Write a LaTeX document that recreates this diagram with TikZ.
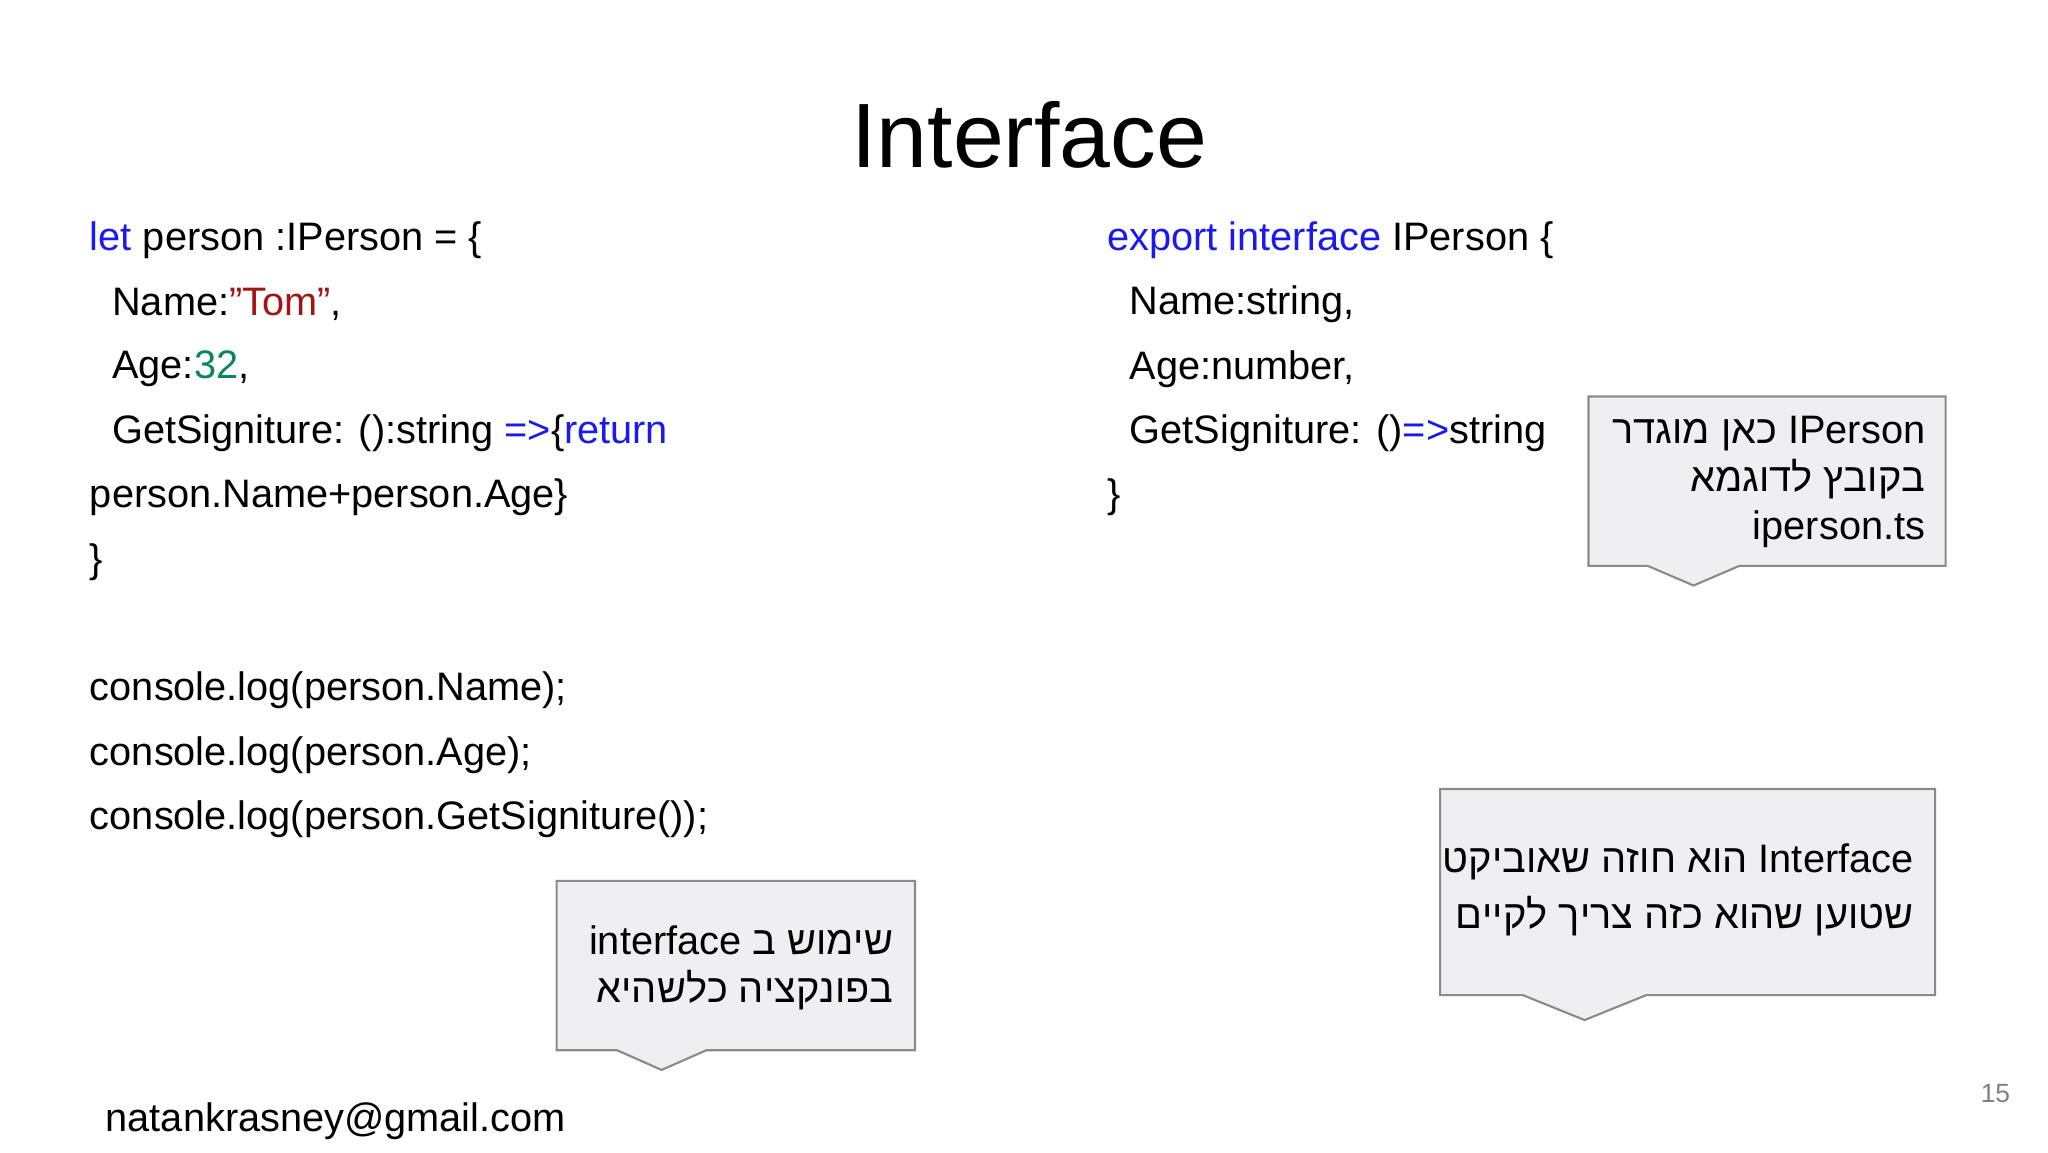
\documentclass[tikz,border=0pt]{standalone}
\usepackage{fontspec}
\setmainfont{Liberation Sans}
\TeXXeTstate=1
\definecolor{kwblue}{HTML}{1A1AF0}
\definecolor{strred}{HTML}{A31515}
\definecolor{numgreen}{HTML}{098658}
\definecolor{boxfill}{HTML}{EFEFF1}
\definecolor{boxline}{HTML}{8A8A8A}
\tikzstyle{code} = [anchor=west, inner sep=0pt, font=\fontsize{11.3}{13}\selectfont]
\tikzstyle{callout} = [fill=boxfill, draw=boxline, line width=0.6pt]
\tikzstyle{note} = [anchor=east, inner sep=0pt, align=right, font=\fontsize{11.3}{13.6}\selectfont]
\newcommand{\kw}[1]{\textcolor{kwblue}{#1}}

\begin{document}
\begin{tikzpicture}[x=0.01313cm, y=-0.01313cm]
	\useasboundingbox (0,0) rectangle (1560,878);

	\node (title) [inner sep=0pt, font=\fontsize{26}{30}\selectfont] at (784,103) {Interface};

	% left column
	\node (l1) [code] at (68,183) {\kw{let} person :IPerson = \{};
	\node (l2) [code] at (85,232) {Name:\textcolor{strred}{"Tom"},};
	\node (l3) [code] at (85,281) {Age:\textcolor{numgreen}{32},};
	\node (l4) [code] at (85,330) {GetSigniture: ():string \kw{=>}\{\kw{return}};
	\node (l5) [code] at (68,379) {person.Name+person.Age\}};
	\node (l6) [code] at (68,428) {\}};
	\node (l7) [code] at (68,526) {console.log(person.Name);};
	\node (l8) [code] at (68,575) {console.log(person.Age);};
	\node (l9) [code] at (68,624) {console.log(person.GetSigniture());};

	% right column
	\node (r1) [code] at (843,183) {\kw{export interface} IPerson \{};
	\node (r2) [code] at (860,232) {Name:string,};
	\node (r3) [code] at (860,281) {Age:number,};
	\node (r4) [code] at (860,330) {GetSigniture: ()\kw{=>}string};
	\node (r5) [code] at (843,379) {\}};

	% callouts
	\draw [callout] (1210,302) -- (1482,302) -- (1482,431) -- (1325,431) -- (1290,446) -- (1255,431) -- (1210,431) -- cycle;
	\node (n1) [note] at (1467,367) {\beginR\beginL IPerson\endL{} כאן מוגדר\endR\\ \beginR בקובץ לדוגמא\endR\\ iperson.ts};

	\draw [callout] (1097,601) -- (1474,601) -- (1474,758) -- (1254,758) -- (1207,777) -- (1160,758) -- (1097,758) -- cycle;
	\node (n2) [note, font=\fontsize{11.3}{15.8}\selectfont] at (1458,678) {\beginR\beginL Interface\endL{} הוא חוזה שאוביקט\endR\\ \beginR שטוען שהוא כזה צריך לקיים\endR};

	\draw [callout] (424,671) -- (697,671) -- (697,800) -- (538,800) -- (504,815) -- (470,800) -- (424,800) -- cycle;
	\node (n3) [note] at (681,737) {\beginR שימוש ב \beginL interface\endL\endR\\ \beginR בפונקציה כלשהיא\endR};

	\node (mail) [code] at (80,854) {natankrasney@gmail.com};
	\node (page) [inner sep=0pt, text=gray, font=\fontsize{7.5}{9}\selectfont] at (1520,833) {15};
\end{tikzpicture}
\end{document}
